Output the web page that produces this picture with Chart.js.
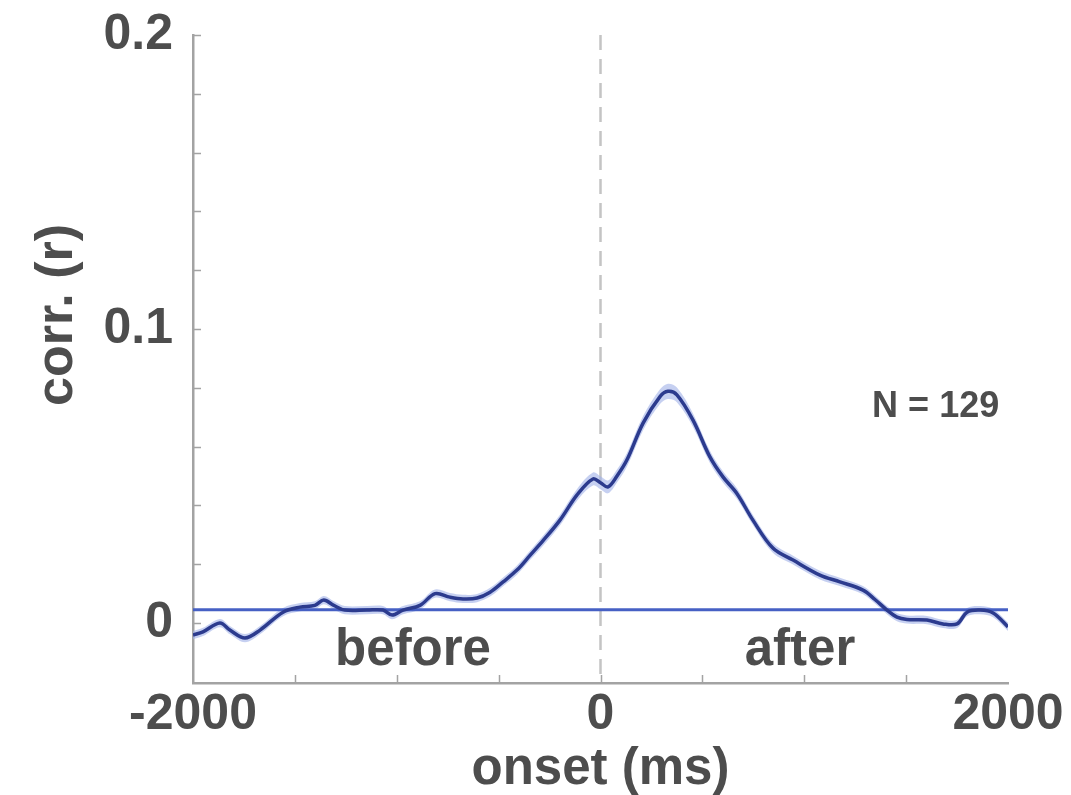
<!DOCTYPE html>
<html>
<head>
<meta charset="utf-8">
<script src="https://cdn.jsdelivr.net/npm/chart.js@4/dist/chart.umd.min.js"></script>
<style>
  html, body { margin: 0; padding: 0; background: #ffffff; }
  #wrap { width: 1071px; height: 795px; }
</style>
</head>
<body>
<div id="wrap"><canvas id="c" width="1071" height="795"></canvas></div>
<script>
// ---- data ----
const onsetMs = [-2000, -1951, -1868, -1819, -1745, -1671, -1558, -1475, -1402, -1358,
  -1309, -1255, -1146, -1068, -1023, -969, -886, -812, -739, -675,
  -606, -542, -478, -410, -346, -282, -199, -115, -37, 0,
  37, 81, 130, 209, 292, 331, 375, 454, 537, 601,
  670, 748, 846, 945, 1077, 1175, 1288, 1347, 1406, 1455,
  1504, 1602, 1681, 1750, 1799, 1863, 1927, 2000];
const corrMean = [-0.0041, -0.0030, 0.0000, -0.0024, -0.0051, -0.0024, 0.0037, 0.0054, 0.0060, 0.0078,
  0.0060, 0.0044, 0.0044, 0.0044, 0.0027, 0.0044, 0.0060, 0.0100, 0.0088, 0.0082,
  0.0085, 0.0105, 0.0140, 0.0180, 0.0230, 0.0280, 0.0350, 0.0436, 0.0490, 0.0477,
  0.0463, 0.0500, 0.0555, 0.0680, 0.0770, 0.0788, 0.0776, 0.0690, 0.0565, 0.0497,
  0.0440, 0.0350, 0.0255, 0.0214, 0.0163, 0.0140, 0.0112, 0.0080, 0.0044, 0.0020,
  0.0012, 0.0010, -0.0003, -0.0003, 0.0037, 0.0044, 0.0034, -0.0013];
const corrSem = [0.0014, 0.0014, 0.0014, 0.0014, 0.0014, 0.0014, 0.0014, 0.0014, 0.0014, 0.0014,
  0.0014, 0.0014, 0.0014, 0.0014, 0.0014, 0.0014, 0.0014, 0.0014, 0.0014, 0.0014,
  0.0014, 0.0015, 0.0015, 0.0016, 0.0016, 0.0017, 0.0018, 0.0020, 0.0022, 0.0022,
  0.0022, 0.0022, 0.0023, 0.0024, 0.0025, 0.0026, 0.0025, 0.0023, 0.0021, 0.0019,
  0.0018, 0.0017, 0.0016, 0.0015, 0.0015, 0.0014, 0.0014, 0.0014, 0.0014, 0.0014,
  0.0014, 0.0014, 0.0014, 0.0014, 0.0014, 0.0014, 0.0014, 0.0014];
const thresholdValue = 0.0045;
const xRange = [-2000, 2000];
const yRange = [-0.0204, 0.2];
const xTickLabels = [-2000, 0, 2000];
const yTickLabels = [0, 0.1, 0.2];
const xMinorStep = 500;
const yMinorStep = 0.02;
const xTitle = 'onset (ms)';
const yTitle = 'corr. (r)';
const annotations = [
  { text: 'before', x: -920, y: -0.0095, size: 51 },
  { text: 'after', x: 979, y: -0.0095, size: 51 },
  { text: 'N = 129', x: 1645, y: 0.0735, size: 36 }
];

// ---- styles ----
const textColor = '#4d4d4d';
const axisColor = '#a3a3a3';
const fontFamily = '"Liberation Sans", Arial, Helvetica, sans-serif';

const pts = (ys) => onsetMs.map((x, i) => ({ x: x, y: ys[i] }));
const upper = corrMean.map((v, i) => v + corrSem[i]);
const lower = corrMean.map((v, i) => v - corrSem[i]);

const isLabelled = (v, list) => list.some(t => Math.abs(t - v) < 1e-9);

const decorPlugin = {
  id: 'decor',
  beforeDatasetsDraw(chart) {
    const { ctx, chartArea, scales } = chart;
    const x0 = scales.x.getPixelForValue(0);
    ctx.save();
    ctx.strokeStyle = '#c4c4c4';
    ctx.lineWidth = 2.5;
    ctx.setLineDash([15, 9]);
    ctx.beginPath();
    ctx.moveTo(x0, chartArea.top);
    ctx.lineTo(x0, chartArea.bottom);
    ctx.stroke();
    ctx.restore();
  },
  afterDraw(chart) {
    const { ctx, chartArea, scales } = chart;
    ctx.save();
    // inward minor ticks
    ctx.strokeStyle = axisColor;
    ctx.lineWidth = 1.5;
    for (let v = 0; v <= yRange[1] + 1e-9; v += yMinorStep) {
      const py = Math.round(scales.y.getPixelForValue(v)) + 0.5;
      ctx.beginPath();
      ctx.moveTo(chartArea.left, py);
      ctx.lineTo(chartArea.left + 8, py);
      ctx.stroke();
    }
    for (let v = xRange[0] + xMinorStep; v < xRange[1]; v += xMinorStep) {
      const px = Math.round(scales.x.getPixelForValue(v)) + 0.5;
      ctx.beginPath();
      ctx.moveTo(px, chartArea.bottom);
      ctx.lineTo(px, chartArea.bottom - 8);
      ctx.stroke();
    }
    // annotations
    ctx.fillStyle = textColor;
    ctx.textAlign = 'center';
    ctx.textBaseline = 'middle';
    annotations.forEach(a => {
      ctx.font = 'bold ' + a.size + 'px ' + fontFamily;
      ctx.fillText(a.text, scales.x.getPixelForValue(a.x), scales.y.getPixelForValue(a.y));
    });
    // y axis title
    ctx.font = 'bold 52px ' + fontFamily;
    ctx.translate(58, 315);
    ctx.rotate(-Math.PI / 2);
    ctx.fillText(yTitle, 0, 0);
    ctx.restore();
  }
};

new Chart(document.getElementById('c'), {
  type: 'line',
  data: {
    datasets: [
      { label: 'upper', data: pts(upper), borderWidth: 0, pointRadius: 0, fill: '+1',
        backgroundColor: 'rgba(160, 176, 232, 0.6)', tension: 0.35, order: 3 },
      { label: 'lower', data: pts(lower), borderWidth: 0, pointRadius: 0, fill: false,
        backgroundColor: 'rgba(160, 176, 232, 0.6)', tension: 0.35, order: 3 },
      { label: 'threshold', data: [{ x: xRange[0], y: thresholdValue }, { x: xRange[1], y: thresholdValue }],
        borderColor: '#4660c4', borderWidth: 3, pointRadius: 0, fill: false, order: 2 },
      { label: 'mean', data: pts(corrMean), borderColor: '#2c3b8e', borderWidth: 3.5,
        pointRadius: 0, fill: false, tension: 0.35, order: 1 }
    ]
  },
  options: {
    responsive: false,
    animation: false,
    events: [],
    layout: { padding: { left: 0, right: 63, top: 35, bottom: 0 } },
    plugins: { legend: { display: false }, tooltip: { enabled: false } },
    scales: {
      x: {
        type: 'linear',
        min: xRange[0], max: xRange[1],
        grid: { display: false },
        border: { display: true, color: axisColor, width: 2.5 },
        afterFit(scale) { scale.height = 112; scale.paddingLeft = 0; scale.paddingRight = 0; },
        afterBuildTicks(scale) { scale.ticks = xTickLabels.map(v => ({ value: v })); },
        ticks: {
          autoSkip: false, maxRotation: 0, padding: -6,
          color: textColor, font: { family: fontFamily, size: 50, weight: 'bold' },
          callback: (v) => isLabelled(v, xTickLabels) ? String(v) : ''
        },
        title: {
          display: true, text: xTitle, color: textColor,
          font: { family: fontFamily, size: 51, weight: 'bold', lineHeight: 1 },
          padding: { top: 0, bottom: 0 }
        }
      },
      y: {
        type: 'linear',
        min: yRange[0], max: yRange[1],
        grid: { display: false },
        border: { display: true, color: axisColor, width: 2.5 },
        afterFit(scale) { scale.width = 193; scale.paddingTop = 0; scale.paddingBottom = 0; },
        afterBuildTicks(scale) { scale.ticks = yTickLabels.map(v => ({ value: v })); },
        ticks: {
          padding: 12,
          color: textColor, font: { family: fontFamily, size: 50, weight: 'bold' },
          callback: (v) => isLabelled(v, yTickLabels) ? String(v) : ''
        }
      }
    }
  },
  plugins: [decorPlugin]
});
</script>
</body>
</html>
